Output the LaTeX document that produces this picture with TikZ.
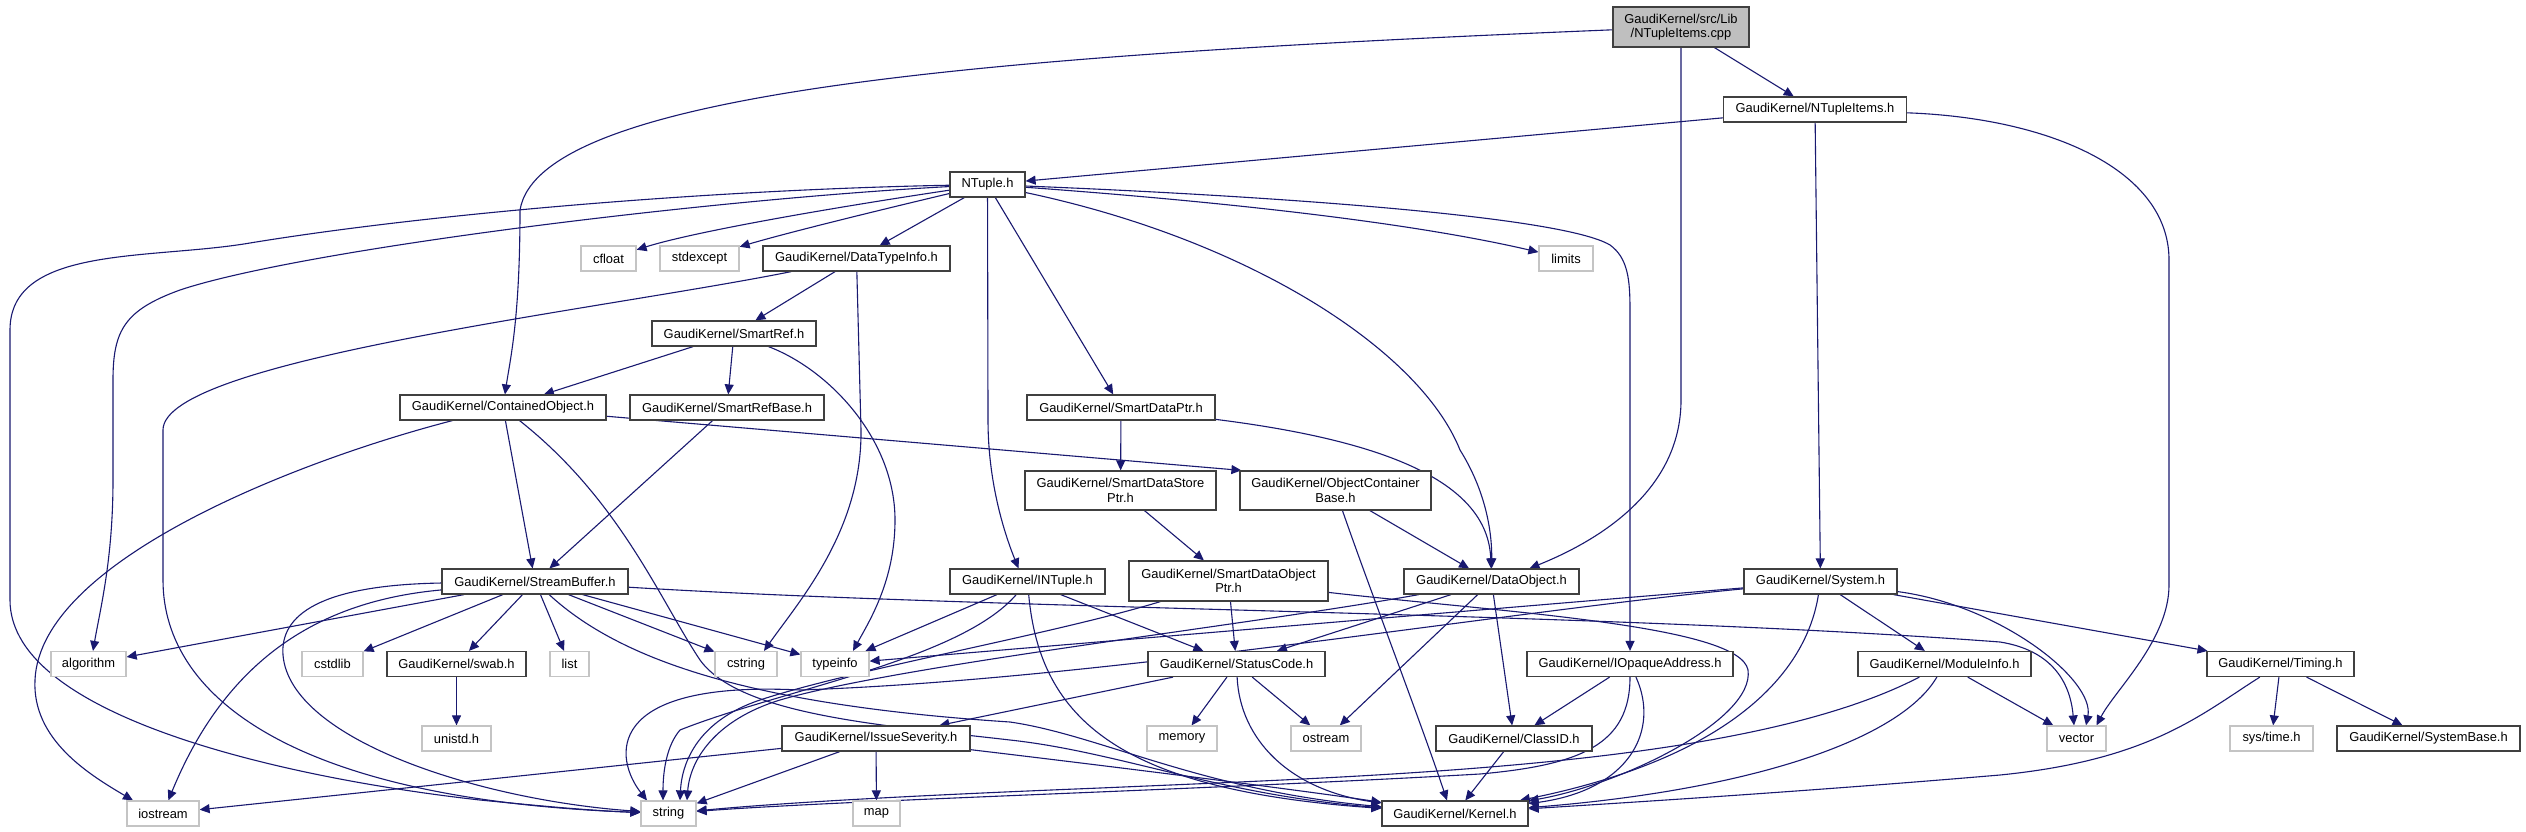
\documentclass[tikz,border=0pt]{standalone}
\usepackage{fontspec}
\setmainfont{Liberation Sans}
\usetikzlibrary{arrows.meta}
\definecolor{edgec}{HTML}{191970}
\definecolor{boxc}{HTML}{404040}
\definecolor{sysc}{HTML}{C4C4C4}
\definecolor{rootc}{HTML}{BFBFBF}
\newcommand\nodefont{\fontsize{12.9}{14.5}\selectfont}
\pgfdeclarelayer{bgfill}
\pgfdeclarelayer{edges}
\pgfsetlayers{bgfill,edges,main}
\tikzset{
  hdrbox/.style={draw=boxc, line width=1.2pt, fill=white, inner sep=0pt, align=center, font=\nodefont, minimum height=25pt},
  sysbox/.style={draw=sysc, line width=1.2pt, fill=white, inner sep=0pt, align=center, font=\nodefont, minimum height=25pt},
  dep/.style={draw=edgec, line width=1.1pt, -{Triangle[length=10pt,width=9pt]}},
}
\begin{document}
\begin{tikzpicture}[x=1pt,y=-1pt]
\begin{pgfonlayer}{bgfill}
\fill[white] (0,0) rectangle (2526,832);
\end{pgfonlayer}
\useasboundingbox (0,0) rectangle (2526,832);

% nodes
\node[hdrbox, fill=rootc, minimum width=136pt, minimum height=40pt] (root) at (1681,27) {GaudiKernel/src/Lib\\/NTupleItems.cpp};
\node[hdrbox, minimum width=183pt] (NTupleItems) at (1815,109.5) {GaudiKernel/NTupleItems.h};
\node[hdrbox, minimum width=75pt] (NTuple) at (987.5,184.5) {NTuple.h};
\node[sysbox, minimum width=55pt] (cfloat) at (608.5,258.5) {cfloat};
\node[sysbox, minimum width=79pt] (stdexcept) at (699.5,258.5) {stdexcept};
\node[hdrbox, minimum width=187pt] (DataTypeInfo) at (856.5,258.5) {GaudiKernel/DataTypeInfo.h};
\node[sysbox, minimum width=54pt] (limits) at (1566,258.5) {limits};
\node[hdrbox, minimum width=164pt] (SmartRef) at (734,333.5) {GaudiKernel/SmartRef.h};
\node[hdrbox, minimum width=206pt] (ContainedObject) at (503,407.5) {GaudiKernel/ContainedObject.h};
\node[hdrbox, minimum width=194pt] (SmartRefBase) at (727,407.5) {GaudiKernel/SmartRefBase.h};
\node[hdrbox, minimum width=188pt] (SmartDataPtr) at (1121,407.5) {GaudiKernel/SmartDataPtr.h};
\node[hdrbox, minimum width=191pt, minimum height=39pt] (SmartDataStorePtr) at (1120.5,490.5) {GaudiKernel/SmartDataStore\\Ptr.h};
\node[hdrbox, minimum width=191pt, minimum height=39pt] (ObjectContainerBase) at (1335.5,490.5) {GaudiKernel/ObjectContainer\\Base.h};
\node[hdrbox, minimum width=186pt] (StreamBuffer) at (535,581.5) {GaudiKernel/StreamBuffer.h};
\node[hdrbox, minimum width=155pt] (INTuple) at (1027.5,581.5) {GaudiKernel/INTuple.h};
\node[hdrbox, minimum width=199pt, minimum height=40pt] (SmartDataObjectPtr) at (1228.5,581) {GaudiKernel/SmartDataObject\\Ptr.h};
\node[hdrbox, minimum width=175pt] (DataObject) at (1491.5,581.5) {GaudiKernel/DataObject.h};
\node[hdrbox, minimum width=153pt] (System) at (1820.5,581.5) {GaudiKernel/System.h};
\node[sysbox, minimum width=75pt] (algorithm) at (88.5,664) {algorithm};
\node[sysbox, minimum width=61pt] (cstdlib) at (332.5,664) {cstdlib};
\node[hdrbox, minimum width=139pt] (swab) at (456.5,664) {GaudiKernel/swab.h};
\node[sysbox, minimum width=39pt] (list) at (569.5,664) {list};
\node[sysbox, minimum width=62pt] (cstring) at (746,664) {cstring};
\node[sysbox, minimum width=68pt] (typeinfo) at (835,664) {typeinfo};
\node[hdrbox, minimum width=177pt] (StatusCode) at (1236.5,664) {GaudiKernel/StatusCode.h};
\node[hdrbox, minimum width=206pt] (IOpaqueAddress) at (1630,664) {GaudiKernel/IOpaqueAddress.h};
\node[hdrbox, minimum width=173pt] (ModuleInfo) at (1944.5,664) {GaudiKernel/ModuleInfo.h};
\node[hdrbox, minimum width=147pt] (Timing) at (2280.5,664) {GaudiKernel/Timing.h};
\node[sysbox, minimum width=69pt] (unistd) at (456.5,738.5) {unistd.h};
\node[hdrbox, minimum width=188pt] (IssueSeverity) at (876,738.5) {GaudiKernel/IssueSeverity.h};
\node[sysbox, minimum width=70pt] (memory) at (1182,738.5) {memory};
\node[sysbox, minimum width=70pt] (ostream) at (1326,738.5) {ostream};
\node[hdrbox, minimum width=156pt] (ClassID) at (1514,738.5) {GaudiKernel/ClassID.h};
\node[sysbox, minimum width=59pt] (vector) at (2076.5,738.5) {vector};
\node[sysbox, minimum width=83pt] (systime) at (2271.5,738.5) {sys/time.h};
\node[hdrbox, minimum width=183pt] (SystemBase) at (2428.5,738.5) {GaudiKernel/SystemBase.h};
\node[sysbox, minimum width=72pt] (iostream) at (163,813.5) {iostream};
\node[sysbox, minimum width=55pt] (string) at (668.5,813.5) {string};
\node[sysbox, minimum width=47pt] (map) at (876.5,813.5) {map};
\node[hdrbox, minimum width=146pt] (Kernel) at (1455,813.5) {GaudiKernel/Kernel.h};

\begin{pgfonlayer}{edges}
% root
\draw[dep] (root) -- (NTupleItems);
\draw[dep] (root) .. controls (1000,55) and (540,90) .. (520,210) .. controls (520,320) and (510,360) .. (ContainedObject);
\draw[dep] (root) -- (1681,400) .. controls (1681,490) and (1600,540) .. ([xshift=38pt]DataObject.north);
% NTupleItems
\draw[dep] (NTupleItems) -- (NTuple);
\draw[dep] (NTupleItems) -- (System);
\draw[dep] (NTupleItems) .. controls (2050,118) and (2169,170) .. (2169,260) -- (2169,585) .. controls (2169,640) and (2115,690) .. ([xshift=20pt]vector.north);
% NTuple
\draw[dep] (NTuple) .. controls (700,190) and (420,215) .. (250,243) .. controls (150,260) and (10,245) .. (10,330) -- (10,600) .. controls (10,720) and (300,780) .. (480,800) .. controls (560,808) and (600,811) .. (string);
\draw[dep] (NTuple) .. controls (700,200) and (300,250) .. (180,290) .. controls (125,310) and (113,330) .. (113,380) -- (113,480) .. controls (113,560) and (100,610) .. ([xshift=4.5pt]algorithm.north);
\draw[dep] (NTuple) .. controls (850,205) and (700,230) .. (cfloat);
\draw[dep] (NTuple) .. controls (880,210) and (790,232) .. (stdexcept);
\draw[dep] (NTuple) -- (DataTypeInfo);
\draw[dep] (NTuple) .. controls (1200,200) and (1400,220) .. (limits);
\draw[dep] (NTuple) .. controls (1250,195) and (1560,215) .. (1610,245) .. controls (1628,258) and (1630,280) .. (1630,310) -- (IOpaqueAddress);
\draw[dep] (NTuple) -- (SmartDataPtr);
\draw[dep] (NTuple) -- (988,420) .. controls (988,480) and (1003,530) .. ([xshift=-9pt]INTuple.north);
\draw[dep] (NTuple) .. controls (1250,240) and (1420,350) .. (1460,450) .. controls (1485,490) and (1492,530) .. (DataObject);
% DataTypeInfo
\draw[dep] (DataTypeInfo) -- (SmartRef);
\draw[dep] (DataTypeInfo) .. controls (600,310) and (163,360) .. (163,430) -- (163,580) .. controls (163,700) and (300,800) .. (string);
\draw[dep] (DataTypeInfo) -- (861,430) .. controls (862,530) and (800,600) .. ([xshift=18pt]cstring.north);
% SmartRef
\draw[dep] (SmartRef) -- (ContainedObject);
\draw[dep] (SmartRef) -- (SmartRefBase);
\draw[dep] (SmartRef) .. controls (830,370) and (895,440) .. (895,520) .. controls (895,580) and (870,620) .. ([xshift=18pt]typeinfo.north);
% ContainedObject
\draw[dep] (ContainedObject) -- (StreamBuffer);
\draw[dep] (ContainedObject) .. controls (300,460) and (40,560) .. (35,680) .. controls (32,740) and (90,775) .. ([xshift=-30pt]iostream.north);
\draw[dep] (ContainedObject) -- ([xshift=2pt]ObjectContainerBase.north west);
\draw[dep] (ContainedObject) .. controls (620,500) and (660,600) .. (700,660) .. controls (740,715) and (880,725) .. (1010,740) .. controls (1120,752) and (1220,795) .. (Kernel);
% SmartRefBase
\draw[dep] (SmartRefBase) -- (StreamBuffer);
% StreamBuffer
\draw[dep] (StreamBuffer) -- (algorithm);
\draw[dep] (StreamBuffer) -- (cstdlib);
\draw[dep] (StreamBuffer) -- (swab);
\draw[dep] (StreamBuffer) -- (list);
\draw[dep] (StreamBuffer) -- (cstring);
\draw[dep] (StreamBuffer) -- (typeinfo);
\draw[dep] (StreamBuffer) .. controls (330,600) and (230,650) .. (iostream);
\draw[dep] (StreamBuffer) .. controls (320,585) and (280,615) .. (283,655) .. controls (290,740) and (480,800) .. (string);
\draw[dep] (StreamBuffer) .. controls (620,660) and (750,705) .. (1010,722) .. controls (1100,735) and (1200,790) .. (Kernel);
\draw[dep] (StreamBuffer) .. controls (1000,610) and (1600,612) .. (2000,642) .. controls (2050,650) and (2070,680) .. ([xshift=-2.5pt]vector.north);
% swab
\draw[dep] (swab) -- (unistd);
% INTuple
\draw[dep] (INTuple) -- (typeinfo);
\draw[dep] (INTuple) .. controls (960,660) and (780,690) .. (680,730) .. controls (667,745) and (663,770) .. ([xshift=-5.5pt]string.north);
\draw[dep] (INTuple) -- (StatusCode);
\draw[dep] (INTuple) .. controls (1040,720) and (1120,790) .. (Kernel);
% SmartDataPtr
\draw[dep] (SmartDataPtr) -- (SmartDataStorePtr);
\draw[dep] (SmartDataPtr) .. controls (1380,440) and (1488,480) .. (DataObject);
% SmartDataStorePtr
\draw[dep] (SmartDataStorePtr) -- (SmartDataObjectPtr);
% ObjectContainerBase
\draw[dep] (ObjectContainerBase) -- (DataObject);
\draw[dep] (ObjectContainerBase) .. controls (1370,590) and (1420,720) .. ([xshift=-8pt]Kernel.north);
% SmartDataObjectPtr
\draw[dep] (SmartDataObjectPtr) -- (StatusCode);
\draw[dep] (SmartDataObjectPtr) .. controls (1050,635) and (850,670) .. (760,700) .. controls (700,720) and (682,760) .. ([xshift=11.5pt]string.north);
\draw[dep] (SmartDataObjectPtr) .. controls (1500,612) and (1740,625) .. (1748,670) .. controls (1755,720) and (1620,785) .. (Kernel);
% DataObject
\draw[dep] (DataObject) -- (StatusCode);
\draw[dep] (DataObject) -- (ostream);
\draw[dep] (DataObject) -- (ClassID);
\draw[dep] (DataObject) .. controls (1250,625) and (900,665) .. (780,700) .. controls (715,720) and (690,760) .. ([xshift=18.5pt]string.north);
% System
\draw[dep] (System) -- (typeinfo);
\draw[dep] (System) .. controls (1500,612) and (1100,680) .. (800,690) .. controls (600,680) and (615,760) .. ([xshift=-21.5pt]string.north);
\draw[dep] (System) .. controls (1805,680) and (1720,760) .. (Kernel);
\draw[dep] (System) -- (ModuleInfo);
\draw[dep] (System) -- (Timing);
\draw[dep] (System) .. controls (2000,605) and (2095,680) .. ([xshift=9.5pt]vector.north);
% ModuleInfo
\draw[dep] (ModuleInfo) -- (vector);
\draw[dep] (ModuleInfo) .. controls (1900,740) and (1750,790) .. (Kernel);
\draw[dep] (ModuleInfo) .. controls (1750,765) and (1400,775) .. (1100,788) .. controls (900,796) and (780,803) .. (string);
% IOpaqueAddress
\draw[dep] (IOpaqueAddress) -- (ClassID);
\draw[dep] (IOpaqueAddress) .. controls (1660,730) and (1630,790) .. (Kernel);
\draw[dep] (IOpaqueAddress) .. controls (1630,745) and (1580,765) .. (1480,774) .. controls (1200,790) and (850,800) .. (string);
% ClassID
\draw[dep] (ClassID) -- (Kernel);
% Timing
\draw[dep] (Timing) -- (systime);
\draw[dep] (Timing) -- (SystemBase);
\draw[dep] (Timing) .. controls (2200,715) and (2150,760) .. (2000,775) .. controls (1800,792) and (1620,803) .. (Kernel);
% StatusCode
\draw[dep] (StatusCode) -- (IssueSeverity);
\draw[dep] (StatusCode) -- (memory);
\draw[dep] (StatusCode) -- (ostream);
\draw[dep] (StatusCode) .. controls (1240,740) and (1290,790) .. (Kernel);
% IssueSeverity
\draw[dep] (IssueSeverity) -- (iostream);
\draw[dep] (IssueSeverity) -- (string);
\draw[dep] (IssueSeverity) -- (map);
\draw[dep] (IssueSeverity) .. controls (1100,765) and (1300,790) .. (Kernel);
\end{pgfonlayer}
\end{tikzpicture}
\end{document}
